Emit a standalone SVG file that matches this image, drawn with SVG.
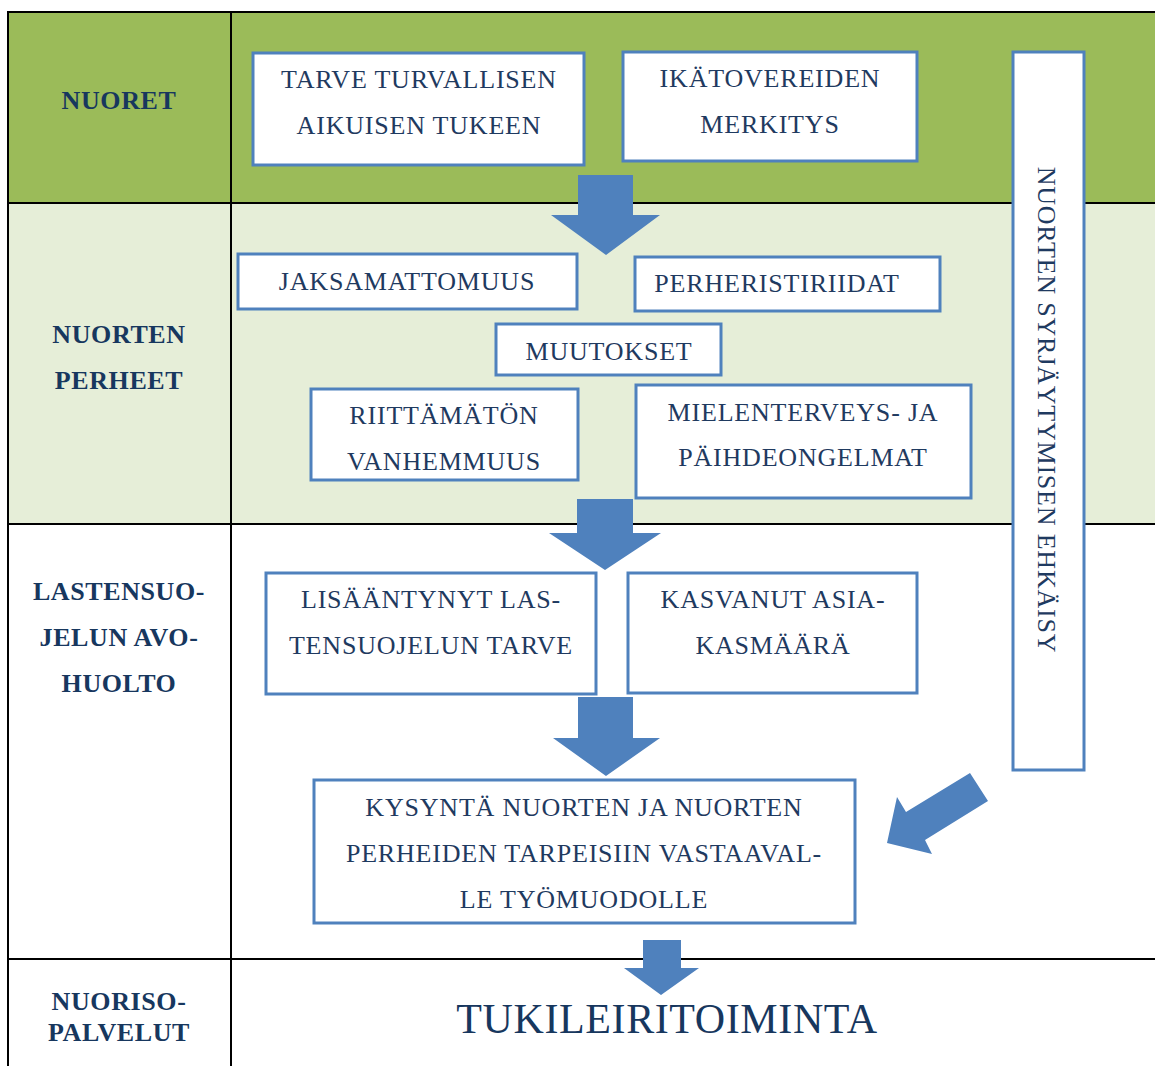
<svg xmlns="http://www.w3.org/2000/svg" width="1155" height="1066" viewBox="0 0 1155 1066">
<style>
.lbl{font-family:"Liberation Serif",serif;font-weight:bold;font-size:26px;letter-spacing:0.6px;fill:#17375E;text-anchor:middle}
.bt{font-family:"Liberation Serif",serif;font-size:26px;letter-spacing:0.8px;fill:#1F3A60;text-anchor:middle}
.box{fill:#fff;stroke:#4F81BD;stroke-width:3}
.grid{stroke:#000;stroke-width:2;fill:none}
.arr{fill:#4F81BD}
</style>
<rect width="1155" height="1066" fill="#fff"/>
<g id="rows">
<rect x="8" y="12" width="1147" height="191" fill="#9BBB59"/>
<rect x="8" y="203" width="1147" height="321" fill="#E6EED8"/>
</g>
<g id="grid" class="grid">
<line x1="8" y1="12" x2="1155" y2="12"/>
<line x1="8" y1="203" x2="1155" y2="203"/>
<line x1="8" y1="524" x2="1155" y2="524"/>
<line x1="8" y1="959" x2="1155" y2="959"/>
<line x1="8" y1="11" x2="8" y2="1066"/>
<line x1="231" y1="11" x2="231" y2="1066"/>
</g>
<g id="labels">
<text class="lbl" x="119" y="109">NUORET</text>
<text class="lbl" x="119" y="343">NUORTEN</text>
<text class="lbl" x="119" y="389">PERHEET</text>
<text class="lbl" x="119" y="600">LASTENSUO-</text>
<text class="lbl" x="119" y="646">JELUN AVO-</text>
<text class="lbl" x="119" y="692">HUOLTO</text>
<text class="lbl" x="119" y="1010">NUORISO-</text>
<text class="lbl" x="119" y="1041">PALVELUT</text>
</g>
<g id="n1"><rect class="box" x="253" y="53" width="331" height="112"/><text class="bt" x="419" y="88">TARVE TURVALLISEN</text><text class="bt" x="419" y="134">AIKUISEN TUKEEN</text></g>
<g id="n2"><rect class="box" x="623" y="52" width="294" height="109"/><text class="bt" x="770" y="87">IKÄTOVEREIDEN</text><text class="bt" x="770" y="133">MERKITYS</text></g>
<g id="n3"><rect class="box" x="1013" y="52" width="71" height="718"/><text class="bt" transform="translate(1038,410) rotate(90)" x="0" y="0">NUORTEN SYRJÄYTYMISEN EHKÄISY</text></g>
<g id="n4"><rect class="box" x="238" y="254" width="339" height="55"/><text class="bt" x="407" y="290">JAKSAMATTOMUUS</text></g>
<g id="n5"><rect class="box" x="635" y="257" width="305" height="54"/><text class="bt" x="777" y="292">PERHERISTIRIIDAT</text></g>
<g id="n6"><rect class="box" x="496" y="324" width="225" height="51"/><text class="bt" x="609" y="360">MUUTOKSET</text></g>
<g id="n7"><rect class="box" x="311" y="389" width="267" height="91"/><text class="bt" x="444" y="424">RIITTÄMÄTÖN</text><text class="bt" x="444" y="470">VANHEMMUUS</text></g>
<g id="n8"><rect class="box" x="636" y="385" width="335" height="113"/><text class="bt" x="803" y="421">MIELENTERVEYS- JA</text><text class="bt" x="803" y="466">PÄIHDEONGELMAT</text></g>
<g id="n9"><rect class="box" x="266" y="573" width="330" height="121"/><text class="bt" x="431" y="608">LISÄÄNTYNYT LAS-</text><text class="bt" x="431" y="654">TENSUOJELUN TARVE</text></g>
<g id="n10"><rect class="box" x="628" y="573" width="289" height="120"/><text class="bt" x="773" y="608">KASVANUT ASIA-</text><text class="bt" x="773" y="654">KASMÄÄRÄ</text></g>
<g id="n11"><rect class="box" x="314" y="780" width="541" height="143"/><text class="bt" x="584" y="816">KYSYNTÄ NUORTEN JA NUORTEN</text><text class="bt" x="584" y="862">PERHEIDEN TARPEISIIN VASTAAVAL-</text><text class="bt" x="584" y="908">LE TYÖMUODOLLE</text></g>
<g id="n12"><text x="667" y="1033" style="font-family:'Liberation Serif',serif;font-size:42px;letter-spacing:0.6px;fill:#17375E;text-anchor:middle">TUKILEIRITOIMINTA</text></g>
<g id="connectors">
<polygon class="arr" points="578,175 633,175 633,215 660,215 606,255 551,215 578,215"/>
<polygon class="arr" points="577,499 633,499 633,533 661,533 605,570 549,533 577,533"/>
<polygon class="arr" points="578,697 633,697 633,738 660,738 606,776 553,738 578,738"/>
<polygon class="arr" points="643,940 681,940 681,968 699,968 661,995 624,968 643,968"/>
<polygon class="arr" points="970,773 988,801 925,840 932,854 887,843 897,797 906,812"/>
</g>
</svg>
